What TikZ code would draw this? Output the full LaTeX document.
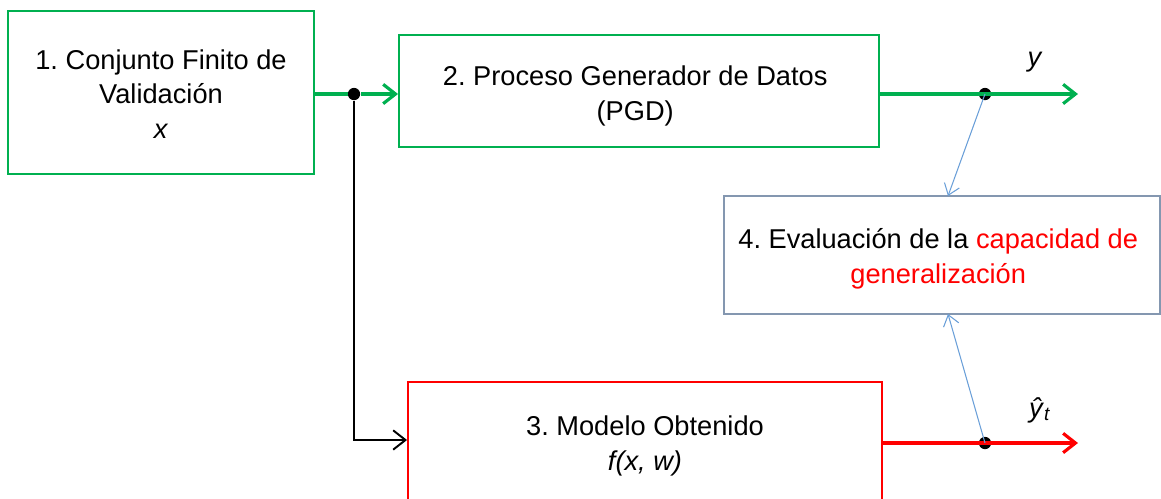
\documentclass[tikz,border=0pt]{standalone}
\usepackage{fontspec}
\setmainfont{Liberation Sans}
\usetikzlibrary{arrows.meta}
\definecolor{pgdgreen}{HTML}{00B050}
\definecolor{evalgray}{HTML}{8497B0}
\definecolor{linkblue}{HTML}{6A9FD8}
\frenchspacing
\newcommand{\boxtext}[2]{%
  \begin{tabular}{c}
    #1\\ #2
  \end{tabular}
}
% shift a label down without changing its size
\newcommand{\lowered}[2]{\raisebox{-#1}[\height][\depth]{#2}}
\begin{document}
\begin{tikzpicture}[
      x=0.02cm, y=-0.02cm,
      every node/.style={inner sep=0pt,font=\fontsize{15.5}{19.8}\selectfont},
      greenbox/.style={draw=pgdgreen,line width=1.1pt},
      redbox/.style={draw=red,line width=1.1pt},
      evalbox/.style={draw=evalgray,line width=1.1pt},
      barb/.style={-{Straight Barb[length=7pt,width=11pt]}},
      greenline/.style={draw=pgdgreen,line width=1.8pt},
      redline/.style={draw=red,line width=1.8pt},
      link/.style={draw=linkblue,line width=0.6pt,-{Straight Barb[length=6pt,width=9pt]}},
      joint/.style={circle,fill=black,minimum size=7pt}
    ]
      \useasboundingbox (0,0) rectangle (1161,498);

      % The four boxes
      \node[greenbox,minimum width=306*0.02cm,minimum height=163*0.02cm] (b1) at (161,92.5)
        {\lowered{2.5pt}{\begin{tabular}{c}1. Conjunto Finito de\\ Validación\\ \textit{x}\end{tabular}}};
      \node[greenbox,minimum width=480*0.02cm,minimum height=112*0.02cm] (b2) at (639,91)
        {\lowered{3pt}{\boxtext{2. Proceso Generador de Datos}{(PGD)}}};
      \node[evalbox,minimum width=436*0.02cm,minimum height=118*0.02cm] (b4) at (942,255)
        {\lowered{2.3pt}{\boxtext{4. Evaluación de la \textcolor{red}{capacidad de}}{\textcolor{red}{generalización}}}};
      \node[redbox,minimum width=474*0.02cm,minimum height=128*0.02cm] (b3) at (645,446)
        {\boxtext{3. Modelo Obtenido}{\textit{f(x, w)}}};

      % Junctions and free ends
      \node[joint] (s1) at (354,94) {};
      \node[joint] (d1) at (985,94) {};
      \node[joint] (d2) at (985,443) {};
      \coordinate (yout) at (1078,94);
      \coordinate (ytout) at (1078,443);
      \coordinate (corner) at (354,440);
      \coordinate (e1) at (948,196);
      \coordinate (e2) at (948,314);

      % Input to the process and to the model
      \draw[greenline] (b1.east |- s1) -- (s1);
      \draw[greenline,barb] (s1) -- (s1 -| b2.west);
      \draw[line width=1.1pt,barb] (s1) -- (corner) -- (corner -| b3.west);

      % Outputs
      \draw[greenline,barb] (b2.east |- d1) -- (yout);
      \draw[redline,barb] (b3.east |- d2) -- (ytout);
      \node (ylab) at (1035,62) {\textit{y}};
      \node (ytlab) at (1040,410) {\textit{ŷ}\textsubscript{\textit{t}}};

      % Comparison links
      \draw[link] (d1.center) -- (e1);
      \draw[link] (d2.center) -- (e2);
\end{tikzpicture}
\end{document}
